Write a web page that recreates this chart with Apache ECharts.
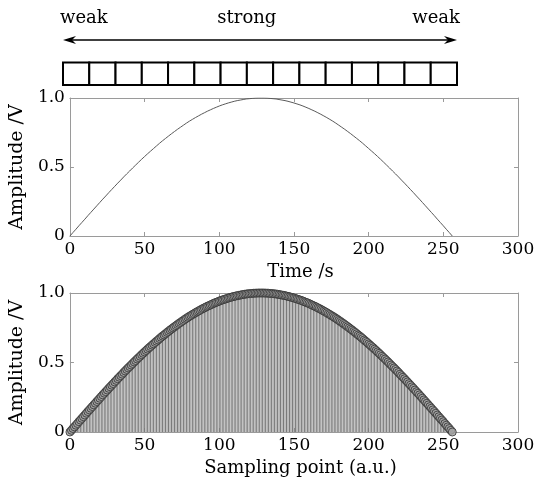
<!DOCTYPE html>
<html>
<head>
<meta charset="utf-8">
<script src="https://cdn.jsdelivr.net/npm/echarts@6/dist/echarts.min.js"></script>
<style>
  html, body { margin: 0; padding: 0; background: #fff; }
  #chart { width: 554px; height: 487px; }
</style>
</head>
<body>
<div id="chart"></div>
<script>
// Sampled amplitude (V) of one half period, sample index 0..256
const samples = [
  0, .012, .025, .037, .049, .061, .074, .086, .098, .110,
  .122, .135, .147, .159, .171, .183, .195, .207, .219, .231,
  .243, .255, .267, .279, .290, .302, .314, .325, .337, .348,
  .360, .371, .383, .394, .405, .416, .428, .439, .450, .461,
  .471, .482, .493, .504, .514, .525, .535, .545, .556, .566,
  .576, .586, .596, .606, .615, .625, .634, .644, .653, .662,
  .672, .681, .690, .698, .707, .716, .724, .733, .741, .749,
  .757, .765, .773, .781, .788, .796, .803, .811, .818, .825,
  .832, .838, .845, .851, .858, .864, .870, .876, .882, .888,
  .893, .899, .904, .909, .914, .919, .924, .929, .933, .937,
  .942, .946, .950, .953, .957, .960, .964, .967, .970, .973,
  .976, .978, .981, .983, .985, .987, .989, .991, .993, .994,
  .995, .996, .997, .998, .999, .999, 1, 1, 1,
  1, 1, .999, .999, .998, .997, .996, .995, .994, .993, .991,
  .989, .987, .985, .983, .981, .978, .976,
  .973, .970, .967, .964, .960, .957, .953, .950, .946, .942,
  .937, .933, .929, .924, .919, .914, .909, .904, .899, .893,
  .888, .882, .876, .870, .864, .858, .851, .845, .838, .832,
  .825, .818, .811, .803, .796, .788, .781, .773, .765, .757,
  .749, .741, .733, .724, .716, .707, .698, .690, .681, .672,
  .662, .653, .644, .634, .625, .615, .606, .596, .586, .576,
  .566, .556, .545, .535, .525, .514, .504, .493, .482, .471,
  .461, .450, .439, .428, .416, .405, .394, .383, .371, .360,
  .348, .337, .325, .314, .302, .290, .279, .267, .255, .243,
  .231, .219, .207, .195, .183, .171, .159, .147, .135, .122,
  .110, .098, .086, .074, .061, .049, .037, .025, .012, 0
];

// Tick values and their labels
const xTicks = [0, 50, 100, 150, 200, 250, 300];
const yTicks = [0, 0.5, 1.0];
const yTickLabels = ['0', '0.5', '1.0'];

// Strip of detector cells with the intensity description above it
const cells = [0, 1, 2, 3, 4, 5, 6, 7, 8, 9, 10, 11, 12, 13, 14];
const stripWords = ['weak', 'strong', 'weak'];
const stripWordPos = [0, 7.0, 15];

const FONT = 'DejaVu Serif';
const AXIS_GRAY = '#9a9a9a';
const INK = '#000';

const points = samples.map((v, i) => [i, v]);

function xAxisPair(gridIndex, name) {
  return [
    {
      gridIndex, type: 'value', position: 'bottom',
      min: xTicks[0], max: xTicks[xTicks.length - 1], interval: 50,
      name, nameLocation: 'middle', nameGap: 27,
      nameTextStyle: { fontFamily: FONT, fontSize: 18, color: INK, padding: [0, 0, 0, 13] },
      axisLine: { onZero: false, lineStyle: { color: AXIS_GRAY, width: 1 } },
      axisTick: { inside: true, length: 4, lineStyle: { color: AXIS_GRAY } },
      axisLabel: { fontFamily: FONT, fontSize: 17, color: INK, margin: 5 },
      splitLine: { show: false }
    },
    {
      gridIndex, type: 'value', position: 'top',
      min: xTicks[0], max: xTicks[xTicks.length - 1], interval: 50,
      axisLine: { onZero: false, lineStyle: { color: AXIS_GRAY, width: 1 } },
      axisTick: { inside: true, length: 4, lineStyle: { color: AXIS_GRAY } },
      axisLabel: { show: false },
      splitLine: { show: false }
    }
  ];
}

function yAxisPair(gridIndex) {
  return [
    {
      gridIndex, type: 'value', position: 'left',
      min: yTicks[0], max: yTicks[yTicks.length - 1], interval: 0.5,
      name: 'Amplitude /V', nameLocation: 'middle', nameGap: 38,
      nameTextStyle: { fontFamily: FONT, fontSize: 19, color: INK },
      axisLine: { onZero: false, lineStyle: { color: AXIS_GRAY, width: 1 } },
      axisTick: { inside: true, length: 4, lineStyle: { color: AXIS_GRAY } },
      axisLabel: {
        fontFamily: FONT, fontSize: 17, color: INK, margin: 5,
        formatter: (v) => yTickLabels[yTicks.indexOf(v)] ?? ''
      },
      splitLine: { show: false }
    },
    {
      gridIndex, type: 'value', position: 'right',
      min: yTicks[0], max: yTicks[yTicks.length - 1], interval: 0.5,
      axisLine: { onZero: false, lineStyle: { color: AXIS_GRAY, width: 1 } },
      axisTick: { inside: true, length: 4, lineStyle: { color: AXIS_GRAY } },
      axisLabel: { show: false },
      splitLine: { show: false }
    }
  ];
}

const chart = echarts.init(document.getElementById('chart'), null, { renderer: 'canvas' });

chart.setOption({
  animation: false,
  backgroundColor: '#ffffff',
  grid: [
    { left: 69, right: 36, top: 98, height: 138 },
    { left: 69, right: 36, top: 293, height: 139 },
    { left: 63, right: 97, top: 40, height: 45 }
  ],
  xAxis: [
    ...xAxisPair(0, 'Time /s'),
    ...xAxisPair(1, 'Sampling point (a.u.)'),
    { gridIndex: 2, type: 'value', min: 0, max: cells.length, show: false }
  ],
  yAxis: [
    ...yAxisPair(0),
    ...yAxisPair(1),
    { gridIndex: 2, type: 'value', min: 0, max: 2, show: false }
  ],
  series: [
    // continuous waveform
    {
      type: 'line', xAxisIndex: 0, yAxisIndex: 0,
      data: points, showSymbol: false, silent: true,
      lineStyle: { color: '#5a5a5a', width: 1 }
    },
    // stems of the sampled waveform
    {
      type: 'custom', xAxisIndex: 2, yAxisIndex: 2,
      data: points, silent: true,
      renderItem: (params, api) => {
        const p0 = api.coord([api.value(0), 0]);
        const p1 = api.coord([api.value(0), api.value(1)]);
        return {
          type: 'line',
          shape: { x1: p0[0], y1: p0[1], x2: p1[0], y2: p1[1] },
          style: { stroke: '#7a7a7a', lineWidth: 1 }
        };
      }
    },
    // sample markers
    {
      type: 'scatter', xAxisIndex: 2, yAxisIndex: 2,
      data: points, symbol: 'circle', symbolSize: 8, silent: true,
      itemStyle: { color: '#a4a4a4', borderColor: '#2e2e2e', borderWidth: 1 }
    },
    // detector cells
    {
      type: 'custom', xAxisIndex: 4, yAxisIndex: 4,
      data: cells, silent: true, clip: false,
      renderItem: (params, api) => {
        const i = api.value(0);
        const a = api.coord([i, 0]);
        const b = api.coord([i + 1, 1]);
        return {
          type: 'rect',
          shape: { x: a[0], y: b[1], width: b[0] - a[0], height: a[1] - b[1] },
          style: { fill: '#fff', stroke: '#000', lineWidth: 2 }
        };
      }
    },
    // double-headed arrow over the strip
    {
      type: 'custom', xAxisIndex: 4, yAxisIndex: 4,
      data: [[0, cells.length]], silent: true, clip: false,
      renderItem: (params, api) => {
        const l = api.coord([api.value(0), 2]);
        const r = api.coord([api.value(1), 2]);
        const y = l[1];
        const len = 13, half = 4, notch = 4;
        return {
          type: 'group',
          children: [
            { type: 'line', shape: { x1: l[0] + 4, y1: y, x2: r[0] - 4, y2: y },
              style: { stroke: '#000', lineWidth: 1.3 } },
            { type: 'polygon', shape: { points: [[l[0], y], [l[0] + len, y - half], [l[0] + len - notch, y], [l[0] + len, y + half]] },
              style: { fill: '#000' } },
            { type: 'polygon', shape: { points: [[r[0], y], [r[0] - len, y - half], [r[0] - len + notch, y], [r[0] - len, y + half]] },
              style: { fill: '#000' } }
          ]
        };
      }
    },
    // intensity words
    {
      type: 'custom', xAxisIndex: 4, yAxisIndex: 4,
      data: stripWordPos.map((x, i) => [x, i]), silent: true, clip: false,
      renderItem: (params, api) => {
        const idx = api.value(1);
        const p = api.coord([api.value(0), 2.98]);
        const align = idx === 0 ? 'left' : (idx === stripWords.length - 1 ? 'right' : 'center');
        const dx = idx === 0 ? -3 : (idx === stripWords.length - 1 ? 3 : 0);
        return {
          type: 'text',
          x: p[0] + dx, y: p[1],
          style: {
            text: stripWords[idx], fontFamily: FONT, fontSize: 18, fill: INK,
            align, verticalAlign: 'middle'
          }
        };
      }
    }
  ]
});
</script>
</body>
</html>
